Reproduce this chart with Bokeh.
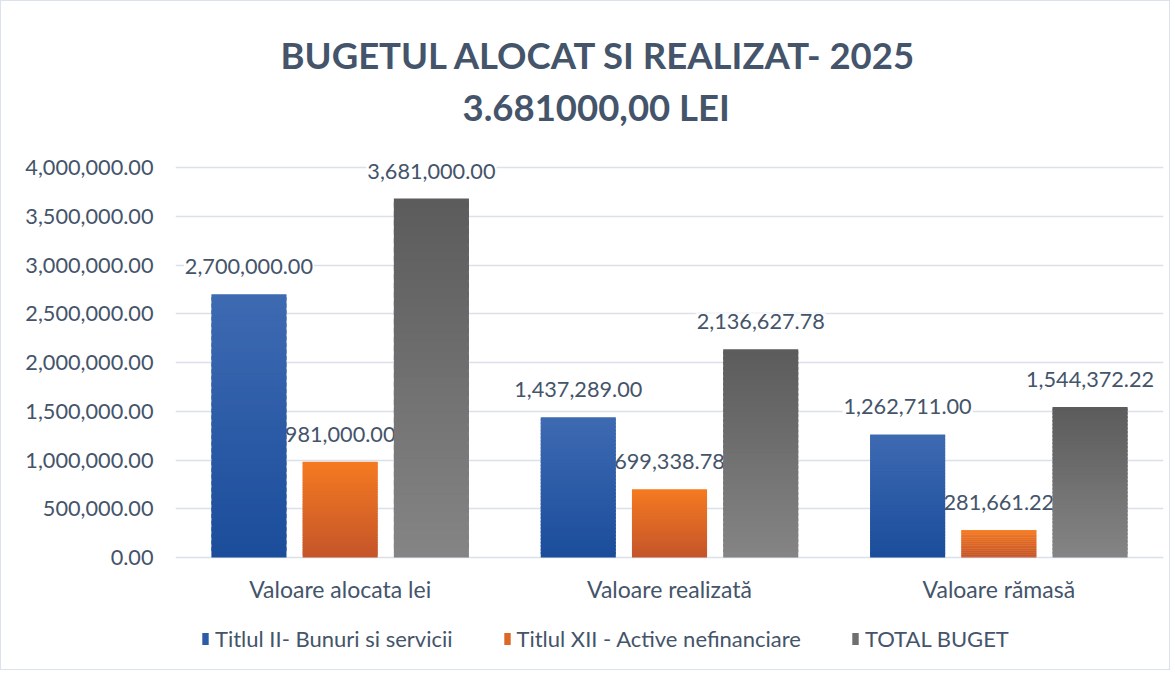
from bokeh.plotting import figure
from bokeh.models import (ColumnDataSource, FactorRange, Range1d, FixedTicker,
                          NumeralTickFormatter, Title, Legend, LegendItem)
from bokeh.transform import dodge
from bokeh.embed import file_html
from bokeh.resources import INLINE

# ---- data ----
categories = ["Valoare alocata lei", "Valoare realizată", "Valoare rămasă"]
series_names = ["Titlul II- Bunuri si servicii", "Titlul XII - Active nefinanciare", "TOTAL BUGET"]
titlul_ii = [2700000.00, 1437289.00, 1262711.00]
titlul_xii = [981000.00, 699338.78, 281661.22]
total_buget = [3681000.00, 2136627.78, 1544372.22]
y_ticks = [0, 500000, 1000000, 1500000, 2000000, 2500000, 3000000, 3500000, 4000000]

title_line1 = "BUGETUL ALOCAT SI REALIZAT- 2025"
title_line2 = "3.681000,00 LEI"

TEXT = "#44546A"
FONT = "Lato"

# gradient (bottom colour, top colour) per series
grad = [("#1B4D9B", "#3E6AB2"), ("#C4552A", "#F57A21"), ("#858585", "#5B5B5B")]
offsets = [-0.277, 0.0, 0.277]
bar_w = 0.228
N = 40

def hex2rgb(h):
    h = h.lstrip("#")
    return tuple(int(h[i:i + 2], 16) for i in (0, 2, 4))

def mix(c0, c1, t):
    a, b = hex2rgb(c0), hex2rgb(c1)
    return "#%02x%02x%02x" % tuple(int(round(a[k] + (b[k] - a[k]) * t)) for k in range(3))

# layout: the frame spans almost the whole canvas so that the labels,
# category names and legend can be drawn inside it
W, H = 1170, 670
TOP, LEFT, RIGHT, BOTTOM = 146, 174, 8, 4
EXTRA_TOP_PX = 20                      # frame space above the top tick
frame_h = H - TOP - BOTTOM
value_px = 390.0                       # pixels between 0 and the top tick
y_top = y_ticks[-1]
units_per_px = y_top / value_px
y_end = y_top + EXTRA_TOP_PX * units_per_px
y_start = y_end - frame_h * units_per_px

p = figure(x_range=FactorRange(*categories), y_range=Range1d(y_start, y_end),
           width=W, height=H, output_backend="svg", toolbar_location=None,
           min_border_left=LEFT, min_border_right=RIGHT, min_border_top=TOP, min_border_bottom=BOTTOM)
p.styles = {"border": "1px solid #DCE2EC"}
p.outline_line_color = None
p.background_fill_color = "white"
p.border_fill_color = "white"

# value labels first (white box hides gridlines; bars are drawn over them)
for vals, off in zip([titlul_ii, titlul_xii, total_buget], offsets):
    lsrc = ColumnDataSource(dict(x=categories, y=vals, t=["{:,.2f}".format(v) for v in vals]))
    p.text(x=dodge("x", off, range=p.x_range), y="y", text="t", source=lsrc,
           text_align="center", text_baseline="bottom", y_offset=-19,
           text_font_size="21.7px", text_color=TEXT, text_font={"value": FONT},
           background_fill_color="white", padding=1)

legend_items = []
for vals, name, (cb, ct), off in zip([titlul_ii, titlul_xii, total_buget], series_names, grad, offsets):
    cats, bottoms, tops, cols = [], [], [], []
    for c, v in zip(categories, vals):
        for i in range(N):
            cats.append(c)
            bottoms.append(v * i / N)
            tops.append(min(v, v * (i + 1.6) / N))
            cols.append(mix(cb, ct, (i + 0.5) / N))
    src = ColumnDataSource(dict(x=cats, bottom=bottoms, top=tops, color=cols))
    r = p.vbar(x=dodge("x", off, range=p.x_range), bottom="bottom", top="top", width=bar_w,
               fill_color="color", line_color=None, source=src)
    legend_items.append(LegendItem(label=name, renderers=[r], index=N // 2))

# category labels under the baseline
csrc = ColumnDataSource(dict(x=categories, y=[0] * len(categories)))
p.text(x="x", y="y", text="x", source=csrc, text_align="center", text_baseline="middle",
       y_offset=31, text_font_size="23px", text_color=TEXT, text_font={"value": FONT})

# axes
p.xaxis.visible = False
p.yaxis.ticker = FixedTicker(ticks=y_ticks)
p.yaxis.formatter = NumeralTickFormatter(format="0,0.00")
p.yaxis.axis_line_color = None
p.yaxis.major_tick_line_color = None
p.yaxis.minor_tick_line_color = None
p.yaxis.major_label_text_color = TEXT
p.yaxis.major_label_text_font = FONT
p.yaxis.major_label_text_font_size = "21.7px"
p.yaxis.major_label_standoff = 16
p.xgrid.grid_line_color = None
p.ygrid.grid_line_color = "#DBE0E9"
p.ygrid.grid_line_width = 1.6

# titles (first added sits nearest the frame); first one is an empty spacer
p.add_layout(Title(text=" ", text_font_size="1px", standoff=16), "above")
p.add_layout(Title(text=title_line2, align="left", offset=287, standoff=0, text_font=FONT,
                   text_font_style="bold", text_font_size="36.5px", text_color=TEXT), "above")
p.add_layout(Title(text=title_line1, align="left", offset=105, standoff=12, text_font=FONT,
                   text_font_style="bold", text_font_size="36.5px", text_color=TEXT), "above")

legend = Legend(items=legend_items, orientation="horizontal", location=(26, 15),
                glyph_width=8, glyph_height=15, label_standoff=6, spacing=50,
                padding=0, margin=0, border_line_color=None, background_fill_alpha=0,
                label_text_font=FONT, label_text_font_size="22px", label_text_color=TEXT,
                label_height=15)
p.add_layout(legend)

open("out.html", "w").write(file_html(p, INLINE))
